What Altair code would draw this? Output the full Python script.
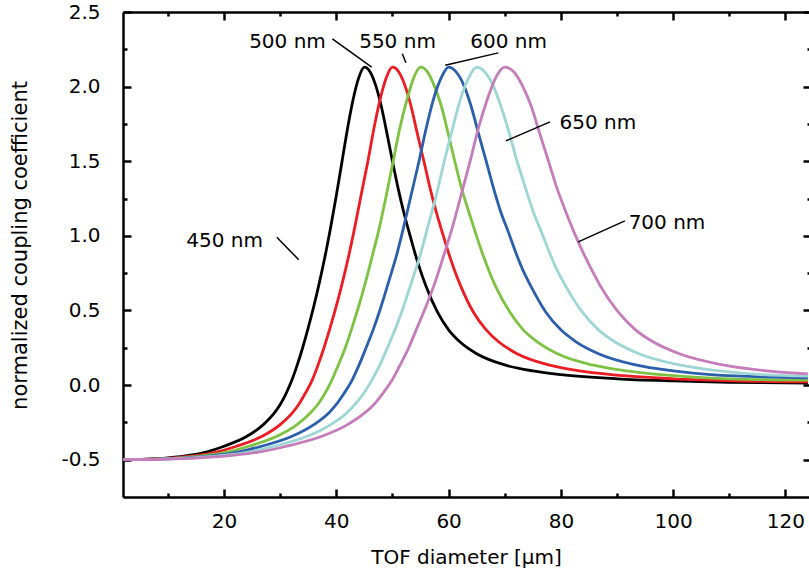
import altair as alt
import pandas as pd

# ---------------- data ----------------
series_names = ["450 nm", "500 nm", "550 nm", "600 nm", "650 nm", "700 nm"]
series_colors = ["#000000", "#ec1c24", "#7dc242", "#2b5fab", "#9dd6d4", "#c47cba"]

x_450 = [2, 6, 10, 14, 17, 20, 24, 27, 29, 30, 31, 32, 33, 34, 35, 36, 37, 38, 39, 40, 41, 42, 43, 44, 45,
         46, 47, 48, 49, 50, 51, 52, 53, 54, 55, 56, 58, 60, 62, 65, 70, 75, 80, 90, 100, 110, 124]
y_450 = [-0.50, -0.497, -0.488, -0.47, -0.447, -0.41, -0.345, -0.265, -0.185, -0.13, -0.06, 0.025, 0.13, 0.25,
         0.385, 0.53, 0.69, 0.865, 1.06, 1.27, 1.495, 1.72, 1.915, 2.06, 2.13, 2.10, 2.01, 1.87, 1.69, 1.50,
         1.32, 1.16, 1.02, 0.885, 0.765, 0.66, 0.49, 0.37, 0.29, 0.21, 0.135, 0.095, 0.07, 0.042, 0.028, 0.019, 0.013]

x_500 = [2, 6.7, 11.1, 15.6, 18.9, 22.2, 26.7, 30.0, 32.2, 33.3, 34.4, 35.6, 36.7, 37.8, 38.9, 40.0, 41.1, 42.2,
         43.3, 44.4, 45.6, 46.7, 47.8, 48.9, 50.0, 51.1, 52.2, 53.3, 54.4, 55.6, 56.7, 57.8, 58.9, 60.0, 61.1,
         62.2, 64.4, 66.7, 68.9, 72.2, 77.8, 83.3, 88.9, 100.0, 111.1, 124]
y_500 = [-0.50, -0.497, -0.488, -0.47, -0.447, -0.41, -0.345, -0.265, -0.185, -0.13, -0.06, 0.025, 0.13, 0.25,
         0.385, 0.53, 0.69, 0.865, 1.06, 1.27, 1.495, 1.72, 1.915, 2.06, 2.13, 2.10, 2.01, 1.87, 1.69, 1.50,
         1.32, 1.16, 1.02, 0.885, 0.765, 0.66, 0.49, 0.37, 0.29, 0.21, 0.135, 0.095, 0.07, 0.042, 0.028, 0.021]

x_550 = [2, 7.3, 12.2, 17.1, 20.8, 24.4, 29.3, 33.0, 35.4, 36.7, 37.9, 39.1, 40.3, 41.6, 42.8, 44.0, 45.2, 46.4,
         47.7, 48.9, 50.1, 51.3, 52.6, 53.8, 55.0, 56.2, 57.4, 58.7, 59.9, 61.1, 62.3, 63.6, 64.8, 66.0, 67.2,
         68.4, 70.9, 73.3, 75.8, 79.4, 85.6, 91.7, 97.8, 110.0, 124]
y_550 = [-0.50, -0.497, -0.488, -0.47, -0.447, -0.41, -0.345, -0.265, -0.185, -0.13, -0.06, 0.025, 0.13, 0.25,
         0.385, 0.53, 0.69, 0.865, 1.06, 1.27, 1.495, 1.72, 1.915, 2.06, 2.13, 2.10, 2.01, 1.87, 1.69, 1.50,
         1.32, 1.16, 1.02, 0.885, 0.765, 0.66, 0.49, 0.37, 0.29, 0.21, 0.135, 0.095, 0.07, 0.042, 0.033]

x_600 = [2, 8.0, 13.3, 18.7, 22.7, 26.7, 32.0, 36.0, 38.7, 40.0, 41.3, 42.7, 44.0, 45.3, 46.7, 48.0, 49.3, 50.7,
         52.0, 53.3, 54.7, 56.0, 57.3, 58.7, 60.0, 61.3, 62.7, 64.0, 65.3, 66.7, 68.0, 69.3, 70.7, 72.0, 73.3,
         74.7, 77.3, 80.0, 82.7, 86.7, 93.3, 100.0, 106.7, 124]
y_600 = [-0.50, -0.497, -0.488, -0.47, -0.447, -0.41, -0.345, -0.265, -0.185, -0.13, -0.06, 0.025, 0.13, 0.25,
         0.385, 0.53, 0.69, 0.865, 1.06, 1.27, 1.495, 1.72, 1.915, 2.06, 2.13, 2.10, 2.01, 1.87, 1.69, 1.50,
         1.32, 1.16, 1.02, 0.885, 0.765, 0.66, 0.49, 0.37, 0.29, 0.21, 0.135, 0.095, 0.07, 0.048]

x_650 = [2, 8.7, 14.4, 20.2, 24.6, 28.9, 34.7, 39.0, 41.9, 43.3, 44.8, 46.2, 47.7, 49.1, 50.6, 52.0, 53.4, 54.9,
         56.3, 57.8, 59.2, 60.7, 62.1, 63.6, 65.0, 66.4, 67.9, 69.3, 70.8, 72.2, 73.7, 75.1, 76.6, 78.0, 79.4,
         80.9, 83.8, 86.7, 89.6, 93.9, 101.1, 108.3, 115.6, 124]
y_650 = [-0.50, -0.497, -0.488, -0.47, -0.447, -0.41, -0.345, -0.265, -0.185, -0.13, -0.06, 0.025, 0.13, 0.25,
         0.385, 0.53, 0.69, 0.865, 1.06, 1.27, 1.495, 1.72, 1.915, 2.06, 2.13, 2.10, 2.01, 1.87, 1.69, 1.50,
         1.32, 1.16, 1.02, 0.885, 0.765, 0.66, 0.49, 0.37, 0.29, 0.21, 0.135, 0.095, 0.07, 0.06]

x_700 = [2, 9.3, 15.6, 21.8, 26.4, 31.1, 37.3, 42.0, 45.1, 46.7, 48.2, 49.8, 51.3, 52.9, 54.4, 56.0, 57.6, 59.1,
         60.7, 62.2, 63.8, 65.3, 66.9, 68.4, 70.0, 71.6, 73.1, 74.7, 76.2, 77.8, 79.3, 80.9, 82.4, 84.0, 85.6,
         87.1, 90.2, 93.3, 96.4, 101.1, 108.9, 116.7, 124]
y_700 = [-0.50, -0.497, -0.488, -0.47, -0.447, -0.41, -0.345, -0.265, -0.185, -0.13, -0.06, 0.025, 0.13, 0.25,
         0.385, 0.53, 0.69, 0.865, 1.06, 1.27, 1.495, 1.72, 1.915, 2.06, 2.13, 2.10, 2.01, 1.87, 1.69, 1.50,
         1.32, 1.16, 1.02, 0.885, 0.765, 0.66, 0.49, 0.37, 0.29, 0.21, 0.135, 0.095, 0.075]

label_text = ["450 nm", "500 nm", "550 nm", "600 nm", "650 nm", "700 nm"]
label_x = [20.1, 31.3, 50.9, 70.7, 86.6, 98.9]
label_y = [0.926, 2.259, 2.259, 2.259, 1.713, 1.047]

leader_x1 = [29.4, 39.3, 51.75, 68.85, 78.06, 91.4]
leader_y1 = [0.99, 2.32, 2.22, 2.226, 1.764, 1.10]
leader_x2 = [33.3, 46.3, 52.4, 59.4, 70.2, 83.1]
leader_y2 = [0.84, 2.13, 2.16, 2.143, 1.636, 0.96]

x_major = [20, 40, 60, 80, 100, 120]
x_minor = [10, 30, 50, 70, 90, 110]
y_major = [-0.5, 0.0, 0.5, 1.0, 1.5, 2.0, 2.5]
y_minor = [-0.25, 0.25, 0.75, 1.25, 1.75, 2.25]

x_domain = [2, 124.2]
y_domain = [-0.75, 2.5]

# ---------------- tables ----------------
all_x = [x_450, x_500, x_550, x_600, x_650, x_700]
all_y = [y_450, y_500, y_550, y_600, y_650, y_700]
rows = []
for name, xs_, ys_ in zip(series_names, all_x, all_y):
    for xv, yv in zip(xs_, ys_):
        rows.append({"series": name, "x": xv, "y": yv})
curves = pd.DataFrame(rows)

labels = pd.DataFrame({"text": label_text, "x": label_x, "y": label_y})
leaders = pd.DataFrame({"x": leader_x1, "y": leader_y1, "x2": leader_x2, "y2": leader_y2})

FONT = "DejaVu Sans"
xs = alt.Scale(domain=x_domain, nice=False, zero=False)
ys = alt.Scale(domain=y_domain, nice=False, zero=False)

main = alt.Chart(curves).mark_line(strokeWidth=2.8, interpolate="monotone", clip=True).encode(
    x=alt.X("x:Q", scale=xs, axis=alt.Axis(
        orient="bottom", values=x_major, ticks=False, domain=True, domainWidth=2.5,
        domainColor="black", labelPadding=30, labelBaseline="alphabetic", format="d",
        labelOverlap=False, labelFlush=False,
        title="TOF diameter [μm]", titleY=66, titleBaseline="alphabetic")),
    y=alt.Y("y:Q", scale=ys, axis=alt.Axis(
        orient="left", values=y_major, ticks=False, domain=True, domainWidth=2.5,
        domainColor="black", labelPadding=23, labelBaseline="middle", labelAlign="right",
        labelOverlap=False,
        labelExpr="datum.value < 0 ? '-' + format(-datum.value, '.1f') : format(datum.value, '.1f')",
        title="normalized coupling coefficient", titleFontSize=21, titleX=-93, titleY=233,
        titleBaseline="bottom", titleAngle=270)),
    color=alt.Color("series:N", scale=alt.Scale(domain=series_names, range=series_colors), legend=None),
)


def x_axis_layer(orient, values, size, offset, domain=False):
    return alt.Chart(curves).mark_point(opacity=0).encode(
        x=alt.X("x:Q", scale=xs, axis=alt.Axis(
            orient=orient, values=values, tickSize=size, offset=offset, ticks=size > 0,
            tickWidth=2.5, tickColor="black", domain=domain, domainWidth=2.5,
            domainColor="black", labels=False, title=None)),
        y=alt.Y("y:Q", scale=ys, axis=None),
    )


def y_axis_layer(orient, values, size, offset):
    return alt.Chart(curves).mark_point(opacity=0).encode(
        x=alt.X("x:Q", scale=xs, axis=None),
        y=alt.Y("y:Q", scale=ys, axis=alt.Axis(
            orient=orient, values=values, tickSize=size, offset=offset, ticks=True,
            tickWidth=2.5, tickColor="black", domain=False, labels=False, title=None)),
    )


axis_layers = [
    x_axis_layer("bottom", x_major, 8, -8),
    x_axis_layer("bottom", x_minor, 4, -4),
    x_axis_layer("top", x_major, 8, -8),
    x_axis_layer("top", x_minor, 4, -4),
    x_axis_layer("top", x_major, 0, 0, domain=True),
    y_axis_layer("left", y_major, 8, -8),
    y_axis_layer("left", y_minor, 4, -4),
    y_axis_layer("right", y_major, 8, -6),
    y_axis_layer("right", y_minor, 4, -2),
]

rules = alt.Chart(leaders).mark_rule(color="black", strokeWidth=1.5).encode(
    x=alt.X("x:Q", scale=xs, axis=None),
    y=alt.Y("y:Q", scale=ys, axis=None),
    x2="x2:Q",
    y2="y2:Q",
)

texts = alt.Chart(labels).mark_text(font=FONT, fontSize=20, color="black",
                                    align="center", baseline="alphabetic").encode(
    x=alt.X("x:Q", scale=xs, axis=None),
    y=alt.Y("y:Q", scale=ys, axis=None),
    text="text:N",
)

chart = alt.layer(main, *axis_layers, rules, texts).resolve_axis(
    x="independent", y="independent"
).properties(
    width=686,
    height=485,
    padding={"left": 123, "top": 12, "right": 0, "bottom": 79},
    autosize=alt.AutoSizeParams(type="none"),
).configure_view(stroke=None).configure_axis(
    grid=False, labelFont=FONT, titleFont=FONT, labelFontSize=20, titleFontSize=20,
    labelColor="black", titleColor="black", titleFontWeight="normal",
)

chart.save("out.html", embed_options={"renderer": "svg", "actions": False})
